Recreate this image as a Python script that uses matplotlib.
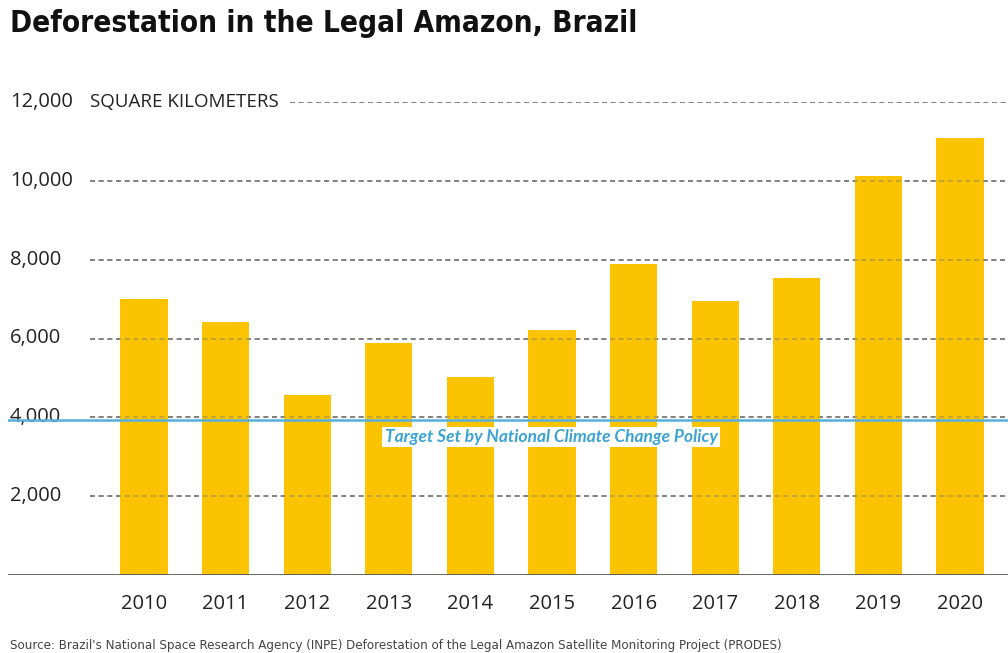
import matplotlib
matplotlib.use("Agg")
import matplotlib.pyplot as plt

years = ["2010", "2011", "2012", "2013", "2014", "2015", "2016", "2017", "2018", "2019", "2020"]
deforestation = [7000, 6418, 4571, 5891, 5012, 6207, 7893, 6947, 7536, 10129, 11088]
yticks = [2000, 4000, 6000, 8000, 10000, 12000]
ytick_labels = ["2,000", "4,000", "6,000", "8,000", "10,000", "12,000"]
target = 3925
target_label = "Target Set by National Climate Change Policy"
title = "Deforestation in the Legal Amazon, Brazil"
unit_label = "SQUARE KILOMETERS"
source = "Source: Brazil's National Space Research Agency (INPE) Deforestation of the Legal Amazon Satellite Monitoring Project (PRODES)"

W, H = 1008, 653
fig = plt.figure(figsize=(W / 100, H / 100), dpi=100)
fig.patch.set_facecolor("white")

ax = fig.add_axes([8 / W, (H - 575) / H, 1000 / W, (575 - 102) / H])
ax.set_facecolor("none")
step = 81.6
xmin = -(144 - 8) / step
xmax = (1008 - 144) / step
ax.set_xlim(xmin, xmax)
ax.set_ylim(0, 12000)

x = list(range(len(years)))
ax.bar(x, deforestation, width=0.58, color="#FCC400", zorder=2)

dash = (0, (3, 2.2))
for v in yticks:
    start = (290 - 144) / step if v == 12000 else (90 - 144) / step
    ax.hlines(v, start, xmax, colors="#777777", linestyles=dash, linewidth=1.2, zorder=1)
    ax.hlines(v, start, xmax, colors="#777777", linestyles=dash, linewidth=1.2,
              zorder=3, alpha=0.5)

font = "Open Sans"
for v, lab in zip(yticks, ytick_labels):
    ax.text(xmin + 2 / step, v, lab, ha="left", va="center", fontsize=14.5,
            family=font, color="#222222", clip_on=False)
ax.text((90 - 144) / step, 12000, unit_label, ha="left", va="center", fontsize=13.5,
        family=font, color="#222222", clip_on=False)

ax.axhline(target, color="#55AEDC", linewidth=1.8, zorder=4)
ax.text((551 - 144) / step, target - 420, target_label, ha="center", va="center",
        fontsize=12.5, family="Lato", style="italic", fontweight="bold", color="#3AA3D4",
        zorder=5, bbox=dict(facecolor="white", edgecolor="none", pad=1.5))

ax.axhline(0, color="#555555", linewidth=2, zorder=4)

for s in ax.spines.values():
    s.set_visible(False)
ax.set_xticks(x)
ax.set_xticklabels(years, fontsize=14.5, family=font, color="#222222")
ax.tick_params(axis="x", length=0, pad=14)
ax.set_yticks([])

fig.text(10 / W, 1 - 23 / H, title, ha="left", va="center", fontsize=21.3,
         fontweight="bold", family="DejaVu Sans", fontstretch="condensed", color="#111111")
fig.text(10 / W, 1 - 645 / H, source, ha="left", va="center", fontsize=9.5,
         family="DejaVu Sans", fontstretch="condensed", color="#444444")

fig.savefig("out.png", dpi=100, facecolor="white")
